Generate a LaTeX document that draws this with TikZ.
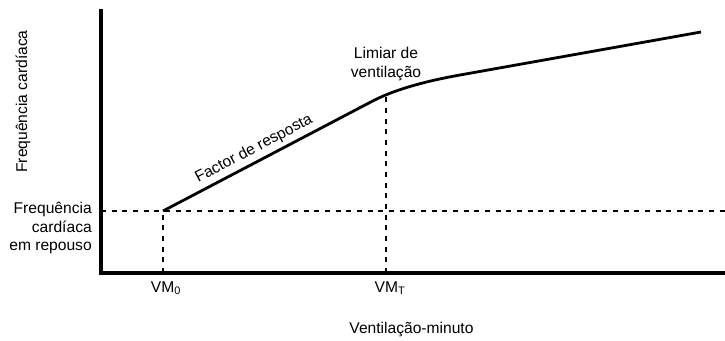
\documentclass[tikz,border=0pt]{standalone}
\usepackage{fontspec}
\setmainfont{Liberation Sans}

\begin{document}
\begin{tikzpicture}[x=0.75pt,y=0.75pt,yscale=-1,xscale=1,
  axis/.style={line width=2.5pt},
  guide/.style={line width=2.1pt,dash pattern=on 3.75pt off 4.25pt},
  curve/.style={line width=2.1pt,line join=round},
  lbl/.style={inner sep=0.75pt,font=\fontsize{11.7}{14.2}\selectfont}]
\useasboundingbox (0,0) rectangle (725,340);

%Points [id:coords]
\coordinate (origin) at (101,273);
\coordinate (ytop) at (101,9);
\coordinate (xend) at (725,273);
\coordinate (yrest) at (101,211);
\coordinate (xrest) at (725,211);
\coordinate (rest) at (163,211);
\coordinate (vm0) at (163,273);
\coordinate (bendA) at (370,102.4);
\coordinate (bendB) at (460,75);
\coordinate (knee) at (386,97);
\coordinate (vmt) at (386,273);
\coordinate (peak) at (701,32);

%Dashed Lines [id:guides]
\draw [guide] (yrest) -- (xrest) ;
\draw [guide] (vm0) -- (rest) ;
\draw [guide] (vmt) -- (knee) ;

%Shape: Axis 2D [id:axes]
\draw [axis] (ytop) -- (origin) -- (xend) ;

%Curve [id:response]
\draw [curve] (rest) -- (bendA) .. controls (390.7,91.1) and (420.7,82) .. (bendB) -- (peak) ;

% Text Node
\node [lbl,rotate=90] (ylabel) at (23,101.5) {Frequência cardíaca};
% Text Node
\node [lbl,anchor=east,align=right] (restlabel) at (93,228) {Frequência\\cardíaca\\em repouso};
% Text Node
\node [lbl] (vm0label) at (166,288) {VM\textsubscript{0}};
% Text Node
\node [lbl] (vmtlabel) at (390,288) {VM\textsubscript{T}};
% Text Node
\node [lbl] (xlabel) at (411.5,329) {Ventilação-minuto};
% Text Node
\node [lbl,align=center] (threshold) at (386,64) {Limiar de\\ventilação};
% Text Node
\node [lbl,rotate=27.8] (factor) at (254,149) {Factor de resposta};

\end{tikzpicture}
\end{document}
